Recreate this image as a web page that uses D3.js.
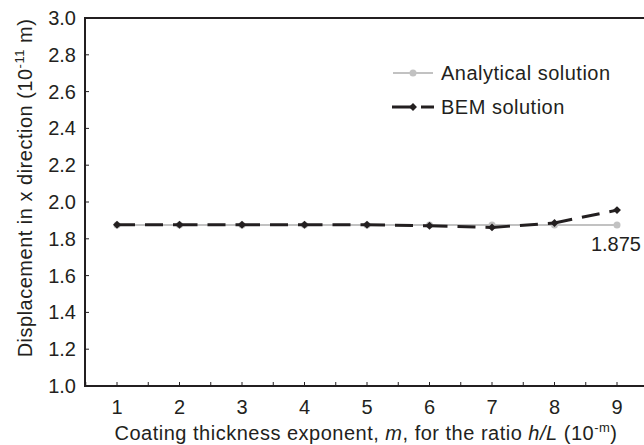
<!DOCTYPE html>
<html>
<head>
<meta charset="utf-8">
<script src="https://cdn.jsdelivr.net/npm/d3@7"></script>
<style>
  body { margin: 0; background: #fff; }
  svg text { font-family: "Liberation Sans", Arial, sans-serif; fill: #231f20; }
</style>
</head>
<body>
<svg id="chart" width="644" height="445"></svg>
<script>
// exponent m on the x axis
const exponents = [1, 2, 3, 4, 5, 6, 7, 8, 9];
const analytical = [1.875, 1.875, 1.875, 1.875, 1.875, 1.875, 1.875, 1.875, 1.875];
const bem = [1.876, 1.876, 1.876, 1.876, 1.876, 1.871, 1.862, 1.886, 1.956];
const yTicks = [1.0, 1.2, 1.4, 1.6, 1.8, 2.0, 2.2, 2.4, 2.6, 2.8, 3.0];
const xTicks = [1, 2, 3, 4, 5, 6, 7, 8, 9];
const xMinorTicks = d3.range(1, 19).map(d => d / 2);

const svg = d3.select('#chart');
const plotLeft = 85, plotTop = 18, plotBottom = 386, plotRight = 644;

const x = d3.scaleLinear().domain([1, 9]).range([117, 617]);
const y = d3.scaleLinear().domain([1, 3]).range([plotBottom, plotTop]);
const ink = '#231f20';

// frame: left spine, top and bottom lines run off the right edge
svg.append('path')
  .attr('d', `M${plotRight},${plotTop}H${plotLeft}V${plotBottom}H${plotRight}`)
  .attr('fill', 'none').attr('stroke', ink).attr('stroke-width', 2);

// ticks pointing inside
svg.append('g').selectAll('line').data(xMinorTicks).join('line')
  .attr('x1', d => x(d)).attr('x2', d => x(d))
  .attr('y1', plotBottom).attr('y2', plotBottom - 4)
  .attr('stroke', ink).attr('stroke-width', 1);

svg.append('g').selectAll('line').data(yTicks).join('line')
  .attr('x1', plotLeft).attr('x2', plotLeft + 4)
  .attr('y1', d => y(d)).attr('y2', d => y(d))
  .attr('stroke', ink).attr('stroke-width', 1);

svg.append('g').selectAll('text').data(yTicks).join('text')
  .attr('x', 76).attr('y', d => y(d) + 7)
  .attr('text-anchor', 'end').attr('font-size', 20)
  .text(d => d.toFixed(1));

svg.append('g').selectAll('text').data(xTicks).join('text')
  .attr('x', d => x(d)).attr('y', 414)
  .attr('text-anchor', 'middle').attr('font-size', 20)
  .text(d => d);

// axis titles
const xt = svg.append('text').attr('x', 366).attr('y', 440)
  .attr('text-anchor', 'middle').attr('font-size', 20)
  .attr('letter-spacing', 0.5);
xt.append('tspan').text('Coating thickness exponent, ');
xt.append('tspan').attr('font-style', 'italic').text('m');
xt.append('tspan').text(', for the ratio ');
xt.append('tspan').attr('font-style', 'italic').text('h/L');
xt.append('tspan').text(' (10');
xt.append('tspan').attr('font-size', 13).attr('dy', -8).text('-m');
xt.append('tspan').attr('dy', 8).text(')');

const yt = svg.append('text')
  .attr('transform', 'translate(32,188) rotate(-90)')
  .attr('text-anchor', 'middle').attr('font-size', 20)
  .attr('letter-spacing', 0.5);
yt.append('tspan').text('Displacement in x direction (10');
yt.append('tspan').attr('font-size', 13).attr('dy', -8).text('-11');
yt.append('tspan').attr('dy', 8).text(' m)');

// analytical series
const line = d3.line().x((d, i) => x(exponents[i])).y(d => y(d));
const gray = '#c2c2c2';
svg.append('path').datum(analytical)
  .attr('d', line).attr('fill', 'none')
  .attr('stroke', gray).attr('stroke-width', 2);
svg.append('g').selectAll('circle').data(analytical).join('circle')
  .attr('cx', (d, i) => x(exponents[i])).attr('cy', d => y(d))
  .attr('r', 3.5).attr('fill', gray);

// BEM series: dashes restart on every segment
const diamond = d3.symbol().type(d3.symbolDiamond2).size(40);
const segs = d3.pairs(bem.map((v, i) => [x(exponents[i]), y(v)]));
svg.append('g').selectAll('line').data(segs).join('line')
  .attr('x1', d => d[0][0]).attr('y1', d => d[0][1])
  .attr('x2', d => d[1][0]).attr('y2', d => d[1][1])
  .attr('stroke', ink).attr('stroke-width', 3)
  .attr('stroke-dasharray', '18,10');
svg.append('g').selectAll('path').data(bem).join('path')
  .attr('d', diamond)
  .attr('transform', (d, i) => `translate(${x(exponents[i])},${y(d)})`)
  .attr('fill', ink);

svg.append('text').attr('x', 641).attr('y', y(1.875) + 26)
  .attr('text-anchor', 'end').attr('font-size', 20).text('1.875');

// legend
const lg = svg.append('g');
lg.append('line').attr('x1', 393).attr('x2', 433).attr('y1', 73).attr('y2', 73)
  .attr('stroke', gray).attr('stroke-width', 2);
lg.append('circle').attr('cx', 413).attr('cy', 73).attr('r', 3.5).attr('fill', gray);
lg.append('text').attr('x', 441).attr('y', 80).attr('font-size', 20)
  .attr('letter-spacing', 0.5).text('Analytical solution');

lg.append('line').attr('x1', 392).attr('x2', 434).attr('y1', 107).attr('y2', 107)
  .attr('stroke', ink).attr('stroke-width', 3).attr('stroke-dasharray', '19,10');
lg.append('path').attr('d', diamond).attr('transform', 'translate(413,107)').attr('fill', ink);
lg.append('text').attr('x', 441).attr('y', 114).attr('font-size', 20)
  .attr('letter-spacing', 0.5).text('BEM solution');
</script>
</body>
</html>
